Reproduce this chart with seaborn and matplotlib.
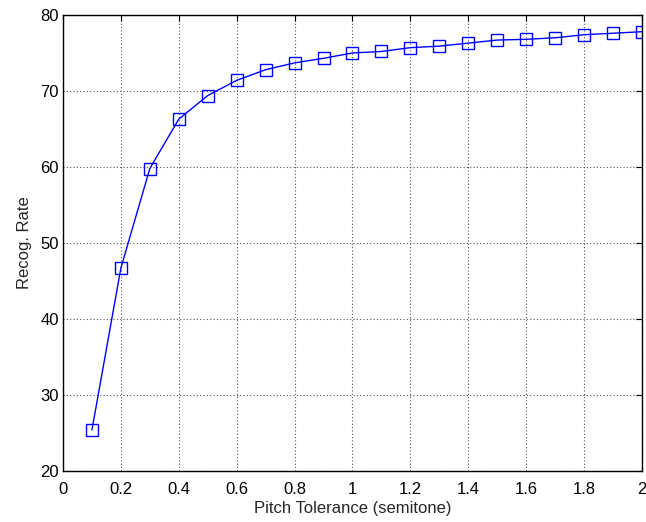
import matplotlib
matplotlib.use("Agg")
import matplotlib.pyplot as plt
import seaborn as sns
import pandas as pd

# Recognition rate versus pitch tolerance
tolerance = [0.1, 0.2, 0.3, 0.4, 0.5, 0.6, 0.7, 0.8, 0.9, 1.0,
             1.1, 1.2, 1.3, 1.4, 1.5, 1.6, 1.7, 1.8, 1.9, 2.0]
recog_rate = [25.4, 46.7, 59.8, 66.3, 69.4, 71.4, 72.8, 73.7, 74.3, 75.0,
              75.2, 75.7, 75.9, 76.3, 76.7, 76.8, 77.0, 77.4, 77.6, 77.8]
x_ticks = [0, 0.2, 0.4, 0.6, 0.8, 1, 1.2, 1.4, 1.6, 1.8, 2]
x_tick_labels = ["0", "0.2", "0.4", "0.6", "0.8", "1", "1.2", "1.4", "1.6", "1.8", "2"]
y_ticks = [20, 30, 40, 50, 60, 70, 80]

df = pd.DataFrame({"tol": tolerance, "rate": recog_rate})

sns.set_style("white")
plt.rcParams["font.family"] = ["Liberation Sans", "DejaVu Sans"]

fig = plt.figure(figsize=(6.46, 5.22), dpi=100)
ax = fig.add_axes([0.0975, 0.0977, 0.8963, 0.8736])

sns.lineplot(data=df, x="tol", y="rate", ax=ax, color="#0000ff", linewidth=1.0,
             marker="s", markersize=9, markerfacecolor="none",
             markeredgecolor="#0000ff", markeredgewidth=1.0)

ax.set_xlim(0, 2)
ax.set_ylim(20, 80)
ax.set_xticks(x_ticks)
ax.set_xticklabels(x_tick_labels)
ax.set_yticks(y_ticks)

ax.grid(True, linestyle=(0, (1, 2)), color="#555555", linewidth=0.8)
ax.tick_params(direction="in", length=4, width=0.8, labelsize=12,
               top=True, right=True, colors="black")
ax.tick_params(axis="x", pad=8)
ax.tick_params(axis="y", pad=3)
for s in ax.spines.values():
    s.set_visible(True)
    s.set_color("black")
    s.set_linewidth(1.0)

ax.set_xlabel("Pitch Tolerance (semitone)", fontsize=12, labelpad=3)
ax.set_ylabel("Recog. Rate", fontsize=12, labelpad=6)

fig.savefig("out.png", dpi=100)
